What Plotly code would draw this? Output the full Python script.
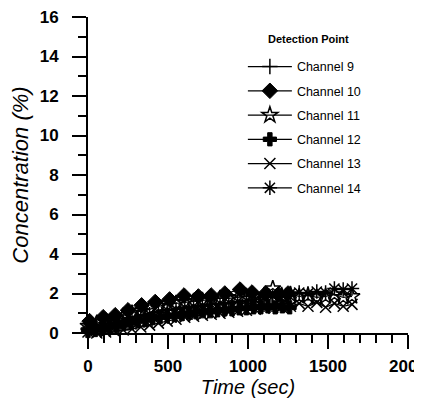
import plotly.graph_objects as go

# ---- data ----
t_ch9 = [0, 50, 100, 150, 200, 250, 300, 350, 400, 450, 500, 550, 600, 650, 700,
         750, 800, 850, 900, 950, 1000, 1050, 1100, 1150, 1200, 1250]
c_ch9 = [0.2, 0.25, 0.3, 0.35, 0.4, 0.5, 0.55, 0.65, 0.7, 0.8, 0.85, 0.9, 1.0, 1.05, 1.1,
         1.15, 1.2, 1.25, 1.3, 1.3, 1.35, 1.4, 1.45, 1.45, 1.5, 1.5]

t_ch10 = [10, 95, 170, 250, 335, 420, 510, 600, 690, 770, 855, 950, 1025, 1110, 1190, 1250]
c_ch10 = [0.6, 0.8, 0.9, 1.15, 1.4, 1.57, 1.7, 1.9, 1.85, 1.9, 2.0, 2.2, 2.05, 2.0, 1.95, 2.0]

t_long = [0, 55, 110, 165, 220, 275, 330, 385, 440, 495, 550, 605, 660, 715, 770, 825,
          880, 935, 990, 1045, 1100, 1155, 1210, 1265, 1320, 1375, 1430, 1485, 1540, 1595, 1650]
c_ch11 = [0.35, 0.5, 0.6, 0.75, 0.85, 1.0, 1.1, 1.2, 1.35, 1.45, 1.5, 1.55, 1.6, 1.65, 1.7, 1.75,
          1.75, 1.8, 1.85, 1.8, 1.9, 2.25, 1.9, 1.95, 1.85, 1.9, 1.8, 1.85, 1.95, 1.8, 1.85]

t_ch12 = [0, 45, 90, 135, 180, 225, 270, 315, 360, 405, 450, 495, 540, 585, 630, 675, 720,
          765, 810, 855, 900, 945, 990, 1035, 1080, 1125, 1170, 1215, 1260]
c_ch12 = [0.1, 0.15, 0.2, 0.3, 0.35, 0.45, 0.5, 0.6, 0.65, 0.75, 0.8, 0.85, 0.9, 0.95, 1.0,
          1.05, 1.1, 1.1, 1.15, 1.2, 1.2, 1.25, 1.25, 1.3, 1.3, 1.35, 1.3, 1.35, 1.3]

c_ch13 = [0.05, 0.0, 0.05, 0.1, 0.15, 0.2, 0.3, 0.4, 0.5, 0.6, 0.7, 0.8, 0.85, 0.9, 0.95, 1.0,
          1.05, 1.1, 1.15, 1.2, 1.25, 1.3, 1.3, 1.35, 1.5, 1.35, 1.55, 1.3, 1.5, 1.35, 1.45]
c_ch14 = [0.25, 0.35, 0.45, 0.55, 0.65, 0.75, 0.85, 0.95, 1.05, 1.15, 1.2, 1.3, 1.35, 1.4, 1.45,
          1.5, 1.55, 1.6, 1.65, 1.7, 1.8, 1.85, 1.9, 2.0, 2.05, 2.0, 2.1, 2.05, 2.25, 2.2, 2.25]

legend_title = "Detection Point"

series = [
    ("Channel 9", t_ch9, c_ch9, "cross-thin", 11, 1.5),
    ("Channel 10", t_ch10, c_ch10, "diamond", 12, 1),
    ("Channel 11", t_long, c_ch11, "star-open", 12, 1.5),
    ("Channel 12", t_ch12, c_ch12, "cross", 11, 1),
    ("Channel 13", t_long, c_ch13, "x-thin", 11, 1.5),
    ("Channel 14", t_long, c_ch14, "asterisk", 12, 1.5),
]

fig = go.Figure()
for i, (name, t, c, sym, sz, lw) in enumerate(series):
    fig.add_trace(go.Scatter(
        x=t, y=c, name=name, mode="lines+markers",
        line=dict(color="black", width=1.2),
        marker=dict(symbol=sym, size=sz, color="black",
                    line=dict(color="black", width=lw)),
        cliponaxis=False, legendgroup=f"g{i}",
    ))

font_main = "Liberation Sans, Arial, sans-serif"
# the page body adds an 8px offset, so the figure is sized to fit the window
fig.update_layout(
    width=414, height=401,
    margin=dict(l=80, r=14, t=9, b=76),
    paper_bgcolor="white", plot_bgcolor="white",
    font=dict(family=font_main, color="black"),
    showlegend=True,
    legend=dict(
        x=0.484, y=0.8895, xanchor="left", yanchor="top",
        bgcolor="rgba(0,0,0,0)",
        font=dict(size=12.5, family=font_main, color="black"),
        tracegroupgap=5,
        traceorder="grouped",
        itemwidth=44,
    ),
    annotations=[dict(
        text=f"<b>{legend_title}</b>", xref="paper", yref="paper",
        x=0.6875, y=0.930, xanchor="center", yanchor="middle",
        showarrow=False, font=dict(size=11, family=font_main, color="black"),
    )],
)
fig.update_xaxes(
    range=[0, 2000], tickmode="linear", tick0=0, dtick=500,
    showline=True, linecolor="black", linewidth=2,
    ticks="outside", ticklen=14, tickwidth=2, tickcolor="black",
    minor=dict(dtick=100, tick0=0, ticks="outside", ticklen=8, tickwidth=2, tickcolor="black"),
    showgrid=False, zeroline=False,
    tickfont=dict(size=17, family="Liberation Sans", weight="bold"),
    ticklabelstandoff=3,
    ticklabeloverflow="allow",
    title=dict(text="<i>Time (sec)</i>", font=dict(size=20), standoff=0),
    automargin=False,
)
fig.update_yaxes(
    range=[0, 16], tickmode="linear", tick0=0, dtick=2,
    showline=True, linecolor="black", linewidth=2,
    ticks="outside", ticklen=14, tickwidth=2, tickcolor="black",
    minor=dict(dtick=1, tick0=0, ticks="outside", ticklen=8, tickwidth=2, tickcolor="black"),
    showgrid=False, zeroline=False,
    tickfont=dict(size=17, family="Liberation Sans", weight="bold"),
    ticklabelstandoff=10,
    ticklabeloverflow="allow",
    title=dict(text="<i>Concentration (%)</i>", font=dict(size=22), standoff=6),
    automargin=False,
)

fig.write_html("out.html")
